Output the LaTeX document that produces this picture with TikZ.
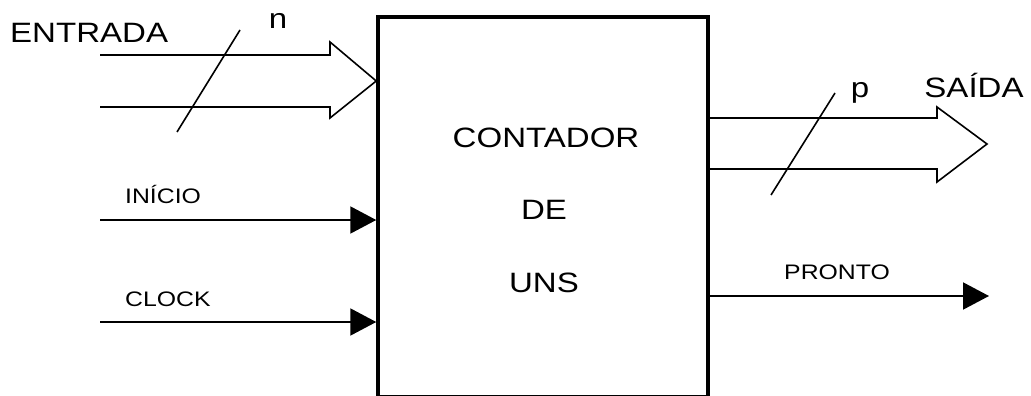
\documentclass[tikz,border=0pt]{standalone}
\usepackage{fontspec}
\setmainfont{Liberation Sans}
\usepackage{graphicx}
\usetikzlibrary{calc,arrows.meta,positioning}

\newcommand{\wide}[1]{\scalebox{1.18}[1]{#1}}

\begin{document}
\begin{tikzpicture}[x=1pt, y=-1pt,
  box/.style={rectangle, draw, line width=3.5pt, minimum width=330pt, minimum height=380pt, inner sep=0pt},
  big/.style={font=\fontsize{28}{28}\selectfont, inner sep=0pt, anchor=base},
  small/.style={font=\fontsize{21}{21}\selectfont, inner sep=0pt, anchor=base},
  sig/.style={line width=2pt, -{Triangle[length=26pt, width=27pt]}},
  bus/.style={line width=1.6pt, line join=miter},
  slash/.style={line width=1.6pt}
]
  \useasboundingbox (0,0) rectangle (1031,396);

  \node[box] (cnt) at (543,207) {};
  \node[big] (t1) at (546,147) {\wide{CONTADOR}};
  \node[big] (t2) at (544,219) {\wide{DE}};
  \node[big] (t3) at (544,292) {\wide{UNS}};

  % entrada (n bits)
  \coordinate (inA) at (100,55);
  \coordinate (inB) at (100,107);
  \draw[bus] (inA) -- (330,55) -- (330,42) -- (cnt.west |- 0,81) -- (330,118) -- (330,107) -- (inB);
  \draw[slash] (177,132) -- (240,30);
  \node[big, anchor=base west] (entrada) at (10,43) {\wide{ENTRADA}};
  \node[big] (n) at (278,29) {\wide{n}};

  % saida (p bits)
  \coordinate (outA) at (cnt.east |- 0,118);
  \coordinate (outB) at (cnt.east |- 0,169);
  \draw[bus] (outA) -- (937,118) -- (937,107) -- (987,144) -- (937,182) -- (937,169) -- (outB);
  \draw[slash] (771,195) -- (835,93);
  \node[big] (saida) at (974,98) {\wide{SAÍDA}};
  \node[big] (p) at (860,98) {\wide{p}};

  % controle
  \coordinate (ini) at (100,220);
  \coordinate (clk) at (100,322);
  \coordinate (pro) at (989,296);
  \draw[sig] (ini) -- (ini -| cnt.west);
  \draw[sig] (clk) -- (clk -| cnt.west);
  \draw[sig] (pro -| cnt.east) -- (pro);
  \node[small, anchor=base west] (inicio) at (125,203) {\wide{INÍCIO}};
  \node[small, anchor=base west] (clock) at (125,306) {\wide{CLOCK}};
  \node[small] (pronto) at (837,279) {\wide{PRONTO}};
\end{tikzpicture}
\end{document}
